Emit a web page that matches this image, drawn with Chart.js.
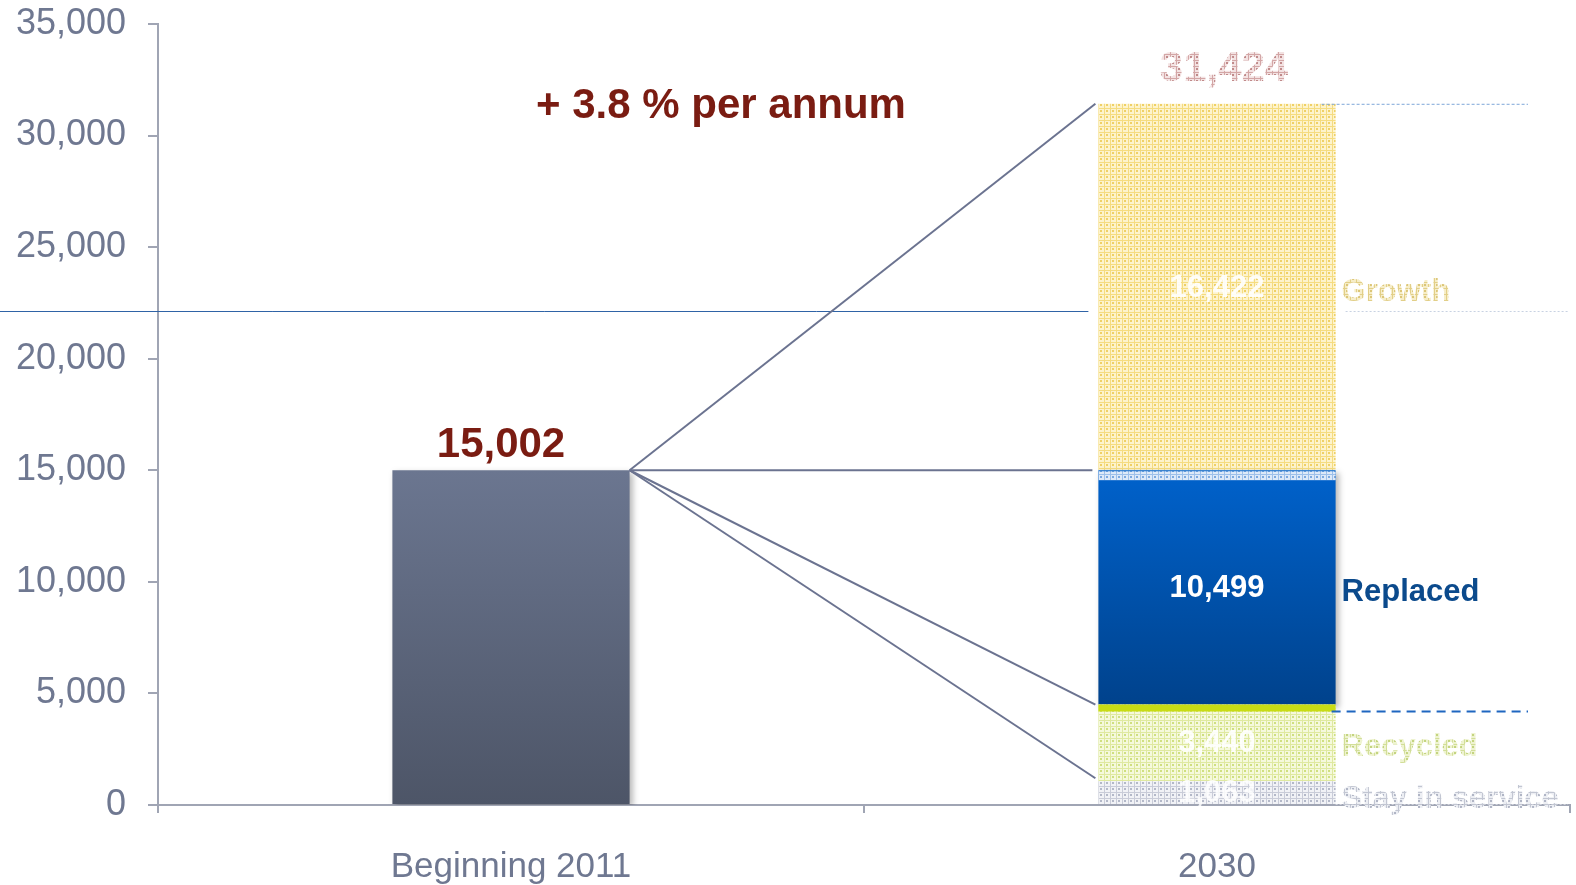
<!DOCTYPE html>
<html>
<head>
<meta charset="utf-8">
<script src="https://cdn.jsdelivr.net/npm/chart.js@4.4.1/dist/chart.umd.min.js"></script>
<style>
  html, body { margin: 0; padding: 0; background: #fff; }
  #fleet { display: block; }
</style>
</head>
<body>
<canvas id="fleet" width="1576" height="885"></canvas>
<script>
// data
const categories = ["Beginning 2011", "2030"];
const startFleet = [15002, null];
const stayInService = [null, 1063];
const recycled = [null, 3440];
const replaced = [null, 10499];
const growth = [null, 16422];
const segmentNames = ["Stay in service", "Recycled", "Replaced", "Growth"];
const growthRate = "+ 3.8 % per annum";
const guideValue = 22150; // thin blue guide across the plot
const yMax = 35000;
const yStep = 5000;

const FONT = '"Liberation Sans", Arial, Helvetica, sans-serif';
const fmt = (v) => v.toLocaleString("en-US");

// dotted fills for the faded segments
function makePattern(base, grid, dot) {
  const c = document.createElement("canvas");
  c.width = 6;
  c.height = 6;
  const g = c.getContext("2d");
  g.fillStyle = base;
  g.fillRect(0, 0, 6, 6);
  g.fillStyle = grid;
  g.fillRect(0, 0, 6, 1);
  g.fillRect(0, 0, 1, 6);
  g.fillStyle = dot;
  g.fillRect(2, 2, 2, 2);
  return g.createPattern(c, "repeat");
}

const ctx = document.getElementById("fleet").getContext("2d");
const pat = {
  stay: makePattern("#f1f2f6", "#c9ccd8", "#b3b8c8"),
  recycled: makePattern("#f5f9dc", "#dfe9a0", "#cfdf80"),
  growth: makePattern("#fdf3cc", "#f5dc80", "#efd066"),
  blueBand: makePattern("#dde9f8", "#9dc0ea", "#7aa8e0"),
  total: makePattern("#f3e2e2", "#d3a6a6", "#c08a8a"),
  growthText: makePattern("#f6edc8", "#e2cf88", "#dcc678"),
  recycledText: makePattern("#eef3d0", "#d2de98", "#c4d480"),
  stayText: makePattern("#eceef3", "#c2c6d2", "#b0b5c5"),
};

// gradient spanning one bar, from its value down to zero
function barGradient(chart, value, top, bottom) {
  const y = chart.scales.y;
  if (!chart.chartArea || !y) return top;
  const gr = chart.ctx.createLinearGradient(0, y.getPixelForValue(value[1]), 0, y.getPixelForValue(value[0]));
  gr.addColorStop(0, top);
  gr.addColorStop(1, bottom);
  return gr;
}

const shadowed = [0, 3];

const fleetPlugin = {
  id: "fleetAnnotations",
  beforeDatasetDraw(chart, args) {
    if (shadowed.includes(args.index)) {
      const c = chart.ctx;
      c.shadowColor = "rgba(0,0,0,0.28)";
      c.shadowBlur = 6;
      c.shadowOffsetX = 3;
      c.shadowOffsetY = 3;
    }
  },
  afterDatasetDraw(chart) {
    const c = chart.ctx;
    c.shadowColor = "rgba(0,0,0,0)";
    c.shadowBlur = 0;
    c.shadowOffsetX = 0;
    c.shadowOffsetY = 0;
  },
  afterDatasetsDraw(chart) {
    const c = chart.ctx;
    const y = chart.scales.y;
    const start = chart.getDatasetMeta(0).data[0];
    const segs = [1, 2, 3, 4].map((i) => chart.getDatasetMeta(i).data[1]);
    const [stay, rec, rep, gro] = segs;
    const bx0 = stay.x - stay.width / 2;
    const bx1 = stay.x + stay.width / 2;

    c.save();
    // thin bands on top of recycled and replaced
    c.fillStyle = "#c8dc14";
    c.fillRect(bx0, rec.y, bx1 - bx0, 7);
    c.fillStyle = pat.blueBand;
    c.fillRect(bx0, rep.y + 1, bx1 - bx0, 9);

    // guide lines
    const gy = Math.round(y.getPixelForValue(guideValue)) + 0.5;
    c.strokeStyle = "#2f63a6";
    c.lineWidth = 1;
    c.beginPath();
    c.moveTo(0, gy);
    c.lineTo(bx0 - 10, gy);
    c.stroke();
    c.strokeStyle = "#c8d2e2";
    c.setLineDash([2, 2]);
    c.beginPath();
    c.moveTo(bx1 + 10, gy);
    c.lineTo(1568, gy);
    c.stroke();

    c.strokeStyle = "#7ea6d8";
    c.setLineDash([3, 2]);
    c.beginPath();
    c.moveTo(bx1 - 14, gro.y + 0.5);
    c.lineTo(1528, gro.y + 0.5);
    c.stroke();

    c.strokeStyle = "#1f66c0";
    c.lineWidth = 2;
    c.setLineDash([9, 6]);
    c.beginPath();
    c.moveTo(bx1 - 4, rec.y + 7);
    c.lineTo(1528, rec.y + 7);
    c.stroke();

    // faint baseline continuing right of the stack
    c.strokeStyle = "#d0d3dc";
    c.lineWidth = 1;
    c.setLineDash([2, 2]);
    c.beginPath();
    c.moveTo(bx1, stay.base + 0.5);
    c.lineTo(1568, stay.base + 0.5);
    c.stroke();
    c.setLineDash([]);

    // connectors from the 2011 bar to the 2030 stack
    const sx = start.x + start.width / 2;
    c.strokeStyle = "#6b7390";
    c.lineWidth = 2;
    [gro.y, rep.y, rec.y, stay.y].forEach((ty, i) => {
      c.beginPath();
      c.moveTo(sx, start.y);
      c.lineTo(i === 1 ? bx0 - 6 : bx0 - 3, ty + (i === 3 ? -3 : 0));
      c.stroke();
    });

    // value labels
    c.textAlign = "center";
    c.textBaseline = "alphabetic";
    c.font = `bold 42px ${FONT}`;
    c.fillStyle = "#7a1c12";
    c.fillText(fmt(startFleet[0]), start.x - 10, start.y - 13);

    const total = stayInService[1] + recycled[1] + replaced[1] + growth[1];
    c.fillStyle = pat.total;
    c.fillText(fmt(total), gro.x + 7, gro.y - 23);

    c.textAlign = "left";
    c.fillStyle = "#7a1c12";
    c.fillText(growthRate, start.x + 25, y.getPixelForValue(30800));

    const values = [stayInService[1], recycled[1], replaced[1], growth[1]];
    const textFill = ["rgba(255,255,255,0.85)", "rgba(255,255,255,0.9)", "#ffffff", "rgba(255,255,255,0.9)"];
    const nameFill = [pat.stayText, pat.recycledText, "#0b4a8c", pat.growthText];
    c.textBaseline = "middle";
    c.font = `bold 31px ${FONT}`;
    segs.forEach((s, i) => {
      const mid = (s.y + s.base) / 2;
      c.textAlign = "center";
      c.fillStyle = textFill[i];
      c.fillText(fmt(values[i]), s.x, mid + 1);
      c.textAlign = "left";
      c.fillStyle = nameFill[i];
      c.fillText(segmentNames[i], bx1 + 6, mid + (i === 0 ? 7 : 5));
    });
    c.restore();
  },
};

const replacedFrom = stayInService[1] + recycled[1];

new Chart(ctx, {
  type: "bar",
  data: {
    labels: categories,
    datasets: [
      {
        label: categories[0],
        data: startFleet,
        backgroundColor: (cx) => barGradient(cx.chart, [0, startFleet[0]], "#6b7690", "#4d5567"),
      },
      { label: segmentNames[0], data: stayInService, backgroundColor: pat.stay },
      { label: segmentNames[1], data: recycled, backgroundColor: pat.recycled },
      {
        label: segmentNames[2],
        data: replaced,
        backgroundColor: (cx) =>
          barGradient(cx.chart, [replacedFrom, replacedFrom + replaced[1]], "#0062cc", "#00428c"),
      },
      { label: segmentNames[3], data: growth, backgroundColor: pat.growth },
    ],
  },
  options: {
    responsive: false,
    animation: false,
    layout: { padding: { left: 0, right: 6, top: 24, bottom: 0 } },
    datasets: {
      bar: {
        barPercentage: 0.336,
        categoryPercentage: 1,
        borderWidth: 0,
        grouped: false,
      },
    },
    plugins: {
      legend: { display: false },
      tooltip: { enabled: false },
    },
    scales: {
      x: {
        stacked: true,
        border: { color: "#a0a5b4", width: 2 },
        grid: {
          offset: true,
          drawOnChartArea: false,
          tickLength: 8,
          color: (cx) => (cx.index === 2 ? "rgba(0,0,0,0)" : "#a0a5b4"),
          lineWidth: 2,
        },
        ticks: {
          color: "#6f7891",
          font: { family: FONT, size: 35 },
          padding: 33,
        },
        afterFit(scale) {
          scale.height = 80;
          scale.paddingLeft = 0;
          scale.paddingRight = 0;
        },
      },
      y: {
        stacked: true,
        min: 0,
        max: yMax,
        border: { color: "#a0a5b4", width: 2 },
        grid: {
          drawOnChartArea: false,
          tickLength: 10,
          color: "#a0a5b4",
          lineWidth: 2,
        },
        ticks: {
          stepSize: yStep,
          color: "#6f7891",
          font: { family: FONT, size: 36 },
          padding: 22,
          callback: (v) => fmt(v),
        },
        afterFit(scale) {
          scale.width = 158;
          scale.paddingTop = 0;
          scale.paddingBottom = 0;
        },
      },
    },
  },
  plugins: [fleetPlugin],
});
</script>
</body>
</html>
